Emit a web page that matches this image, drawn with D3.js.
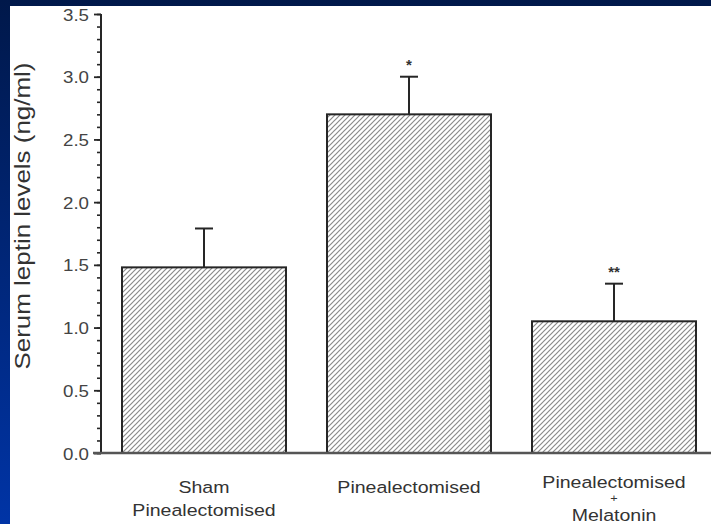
<!DOCTYPE html>
<html>
<head>
<meta charset="utf-8">
<script src="https://cdn.jsdelivr.net/npm/d3@7"></script>
<style>
  html, body { margin: 0; padding: 0; overflow: hidden; }
  svg { display: block; font-family: 'Liberation Sans', Arial, sans-serif; }
</style>
</head>
<body>
<svg id="chart"></svg>
<script>
// Chart data
const groups = ['Sham Pinealectomised', 'Pinealectomised', 'Pinealectomised + Melatonin'];
const labelLines = [['Sham', 'Pinealectomised'], ['Pinealectomised'], ['Pinealectomised', '+', 'Melatonin']];
const means = [1.48, 2.70, 1.05];
const errors = [0.31, 0.30, 0.30];
const marks = ['', '*', '**'];
const yTicks = [0, 0.5, 1.0, 1.5, 2.0, 2.5, 3.0, 3.5];

// Dimensions
const WIDTH = 711, HEIGHT = 524;
const AXIS_X = 101, AXIS_Y = 453, TOP_Y = 14;

const svg = d3.select('#chart')
  .attr('width', WIDTH)
  .attr('height', HEIGHT);

// Blue slide background with white panel
const defs = svg.append('defs');
const grad = defs.append('linearGradient')
  .attr('id', 'bg')
  .attr('x1', 0).attr('y1', 0).attr('x2', 0).attr('y2', 1);
grad.append('stop').attr('offset', '0%').attr('stop-color', '#00184a');
grad.append('stop').attr('offset', '100%').attr('stop-color', '#0034a6');

// Hatch pattern for the bars
const hatch = defs.append('pattern')
  .attr('id', 'hatch')
  .attr('patternUnits', 'userSpaceOnUse')
  .attr('width', 5)
  .attr('height', 5);
hatch.append('rect').attr('width', 5).attr('height', 5).attr('fill', '#fff');
hatch.append('path')
  .attr('d', 'M-1,1 l2,-2 M0,5 l5,-5 M4,6 l2,-2')
  .attr('stroke', '#8a8a8a')
  .attr('stroke-width', 1.2);

svg.append('rect')
  .attr('width', WIDTH)
  .attr('height', HEIGHT)
  .attr('fill', 'url(#bg)');

svg.append('rect')
  .attr('x', 10)
  .attr('y', 6)
  .attr('width', WIDTH - 10)
  .attr('height', HEIGHT - 6)
  .attr('fill', '#fff');

// Scales
const x = d3.scaleBand()
  .domain(groups)
  .range([101.5, 716.5])
  .paddingInner(0.2)
  .paddingOuter(0.1);

const y = d3.scaleLinear()
  .domain([0, 3.5])
  .range([AXIS_Y, TOP_Y]);

// Bars
svg.selectAll('.bar')
  .data(groups)
  .enter().append('rect')
  .attr('class', 'bar')
  .attr('x', d => x(d))
  .attr('y', (d, i) => y(means[i]))
  .attr('width', x.bandwidth())
  .attr('height', (d, i) => y(0) - y(means[i]))
  .attr('fill', 'url(#hatch)')
  .attr('stroke', '#262626')
  .attr('stroke-width', 2);

// Error bars (upper only)
const err = svg.selectAll('.err')
  .data(groups)
  .enter().append('g')
  .attr('class', 'err')
  .attr('stroke', '#262626')
  .attr('stroke-width', 2);

err.append('line')
  .attr('x1', d => x(d) + x.bandwidth() / 2)
  .attr('x2', d => x(d) + x.bandwidth() / 2)
  .attr('y1', (d, i) => y(means[i]))
  .attr('y2', (d, i) => y(means[i] + errors[i]));

err.append('line')
  .attr('x1', d => x(d) + x.bandwidth() / 2 - 9)
  .attr('x2', d => x(d) + x.bandwidth() / 2 + 9)
  .attr('y1', (d, i) => y(means[i] + errors[i]))
  .attr('y2', (d, i) => y(means[i] + errors[i]));

// Significance marks
svg.selectAll('.mark')
  .data(groups)
  .enter().append('text')
  .attr('class', 'mark')
  .attr('x', d => x(d) + x.bandwidth() / 2)
  .attr('y', (d, i) => y(means[i] + errors[i]) - 7)
  .attr('text-anchor', 'middle')
  .attr('font-size', '15px')
  .attr('font-weight', 'bold')
  .attr('fill', '#333')
  .text((d, i) => marks[i]);

// Y axis with minor ticks
const yAxis = svg.append('g')
  .attr('transform', `translate(${AXIS_X},0)`);

yAxis.append('g')
  .call(d3.axisLeft(y).ticks(35).tickSize(4).tickFormat(''))
  .call(g => g.select('.domain').remove())
  .selectAll('line')
  .attr('stroke', '#262626')
  .attr('stroke-width', 1.6);

yAxis.append('g')
  .call(d3.axisLeft(y).tickValues(yTicks).tickSize(7).tickFormat(d3.format('.1f')))
  .call(g => g.select('.domain').remove())
  .call(g => g.selectAll('line').attr('stroke', '#262626').attr('stroke-width', 1.8))
  .call(g => g.selectAll('text')
    .attr('font-size', '16px')
    .attr('font-family', "'Liberation Sans', Arial, sans-serif")
    .attr('fill', '#444')
    .attr('x', 0)
    .attr('dy', '0.38em')
    .attr('transform', d => `translate(-12,${y(d)}) scale(1.17,1) translate(0,${-y(d)})`));

yAxis.append('line')
  .attr('y1', TOP_Y)
  .attr('y2', AXIS_Y)
  .attr('stroke', '#262626')
  .attr('stroke-width', 2);

// X axis line
svg.append('line')
  .attr('x1', AXIS_X - 8)
  .attr('x2', WIDTH)
  .attr('y1', AXIS_Y)
  .attr('y2', AXIS_Y)
  .attr('stroke', '#555')
  .attr('stroke-width', 2.4);

// Category labels
const lineBaselines = [[493, 516], [493], [488, 502, 521]];

svg.selectAll('.xlabel')
  .data(groups)
  .enter().append('g')
  .attr('class', 'xlabel')
  .each(function (d, i) {
    const cx = x(d) + x.bandwidth() / 2;
    d3.select(this).selectAll('text')
      .data(labelLines[i])
      .enter().append('text')
      .attr('transform', (t, j) => `translate(${cx},${lineBaselines[i][j]}) scale(1.15,1)`)
      .attr('text-anchor', 'middle')
      .attr('font-size', t => t === '+' ? '11px' : '17px')
      .attr('fill', '#333')
      .text(t => t);
  });

// Y axis title
svg.append('text')
  .attr('transform', 'translate(30,216) rotate(-90)')
  .attr('text-anchor', 'middle')
  .attr('font-size', '22px')
  .attr('fill', '#333')
  .attr('textLength', 307)
  .attr('lengthAdjust', 'spacingAndGlyphs')
  .text('Serum leptin levels (ng/ml)');
</script>
</body>
</html>
